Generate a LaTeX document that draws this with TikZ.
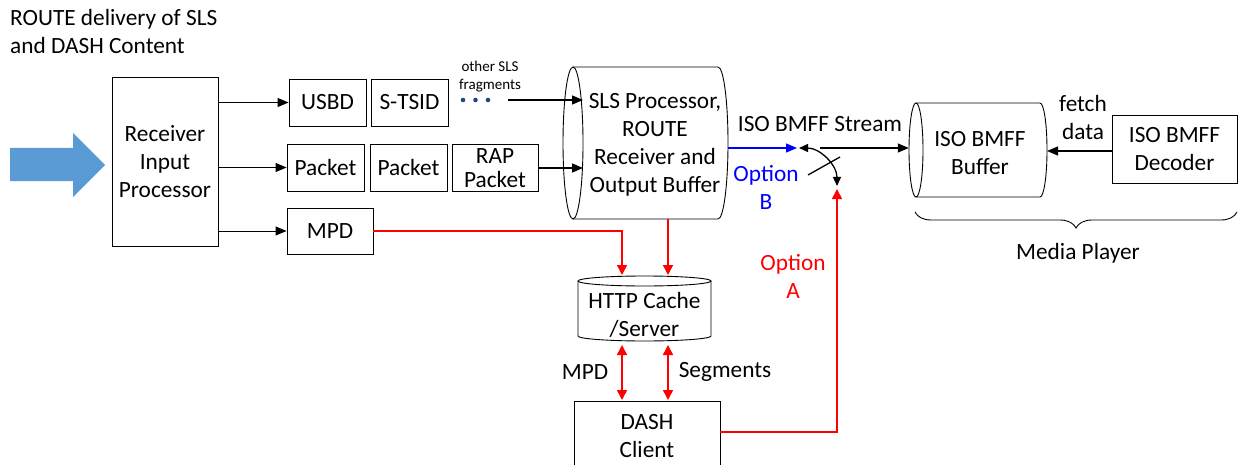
\documentclass[tikz,border=0pt]{standalone}
\usepackage{fontspec}
\setmainfont{Carlito}
\usetikzlibrary{arrows.meta,decorations.pathreplacing}
\definecolor{arrowblue}{RGB}{91,155,213}
\definecolor{dotblue}{RGB}{31,73,125}
\begin{document}
\begin{tikzpicture}[x=1pt,y=-1pt,
  every node/.style={font=\fontsize{23.3}{28}\selectfont, align=center, inner sep=0pt},
  box/.style={draw, line width=0.9pt},
  small/.style={font=\fontsize{15}{18}\selectfont},
  conn/.style={line width=1.3pt, -{Triangle[length=11pt,width=9pt]}},
  thinconn/.style={line width=0.9pt, -{Triangle[length=11pt,width=9pt]}},
  redc/.style={red, line width=1.5pt, -{Triangle[length=10pt,width=10pt]}},
  redd/.style={red, line width=1.5pt, {Triangle[length=10pt,width=10pt]}-{Triangle[length=10pt,width=10pt]}},
  cyl/.style={line width=0.9pt}
]
\useasboundingbox (0,0) rectangle (1238,465);

% title
\node[anchor=west, align=left] (title) at (10,31) {ROUTE delivery of SLS\\and DASH Content};

% big input arrow
\fill[arrowblue] (10,148) -- (73,148) -- (73,133) -- (105,165) -- (73,197) -- (73,181) -- (10,181) -- cycle;

% boxes
\node[box, minimum width=106pt, minimum height=169pt] (rip) at (165,161.5) {Receiver\\Input\\Processor};
\node[box, minimum width=77pt, minimum height=47pt] (usbd) at (327.5,102.5) {USBD};
\node[box, minimum width=77pt, minimum height=47pt] (stsid) at (409.5,102.5) {S-TSID};
\node[box, minimum width=77pt, minimum height=47pt] (p1) at (325.5,167.5) {Packet};
\node[box, minimum width=77pt, minimum height=47pt] (p2) at (408.5,167.5) {Packet};
\node[box, minimum width=86pt, minimum height=47pt, font=\fontsize{23.3}{24}\selectfont] (rap) at (495,168) {RAP\\Packet};
\node[box, minimum width=86pt, minimum height=46pt] (mpd) at (330,231) {MPD};
\node[box, minimum width=125pt, minimum height=68pt] (dec) at (1174.5,149) {ISO BMFF\\Decoder};
\node[box, minimum width=146pt, minimum height=70pt] (dash) at (647,436) {DASH\\Client};

% other SLS fragments
\node[small] (other) at (490,77) {other SLS\\fragments};
\foreach \i/\xx in {1/463,2/475.5,3/488} \fill[dotblue] (\xx,100) circle (2.3pt) coordinate (d\i);
\coordinate (dotsend) at (508,100);

% SLS cylinder
\draw[cyl] (573,67) -- (718,67) arc (90:-90:10pt and 76pt) -- (573,219);
\draw[cyl] (573,143) ellipse [x radius=10pt, y radius=76pt];
\node[minimum width=165pt, minimum height=152pt] (sls) at (645.5,143) {};
\node (slstext) at (655,145) {SLS Processor,\\ROUTE\\Receiver and\\Output Buffer};

% ISO BMFF Buffer cylinder
\draw[cyl] (916,103) -- (1040,103) arc (90:-90:7pt and 47pt) -- (916,197);
\draw[cyl] (916,150) ellipse [x radius=7pt, y radius=47pt];
\node[minimum width=138pt, minimum height=94pt] (buf) at (978,150) {};
\node (buftext) at (980,153) {ISO BMFF\\Buffer};

% HTTP cache cylinder
\draw[cyl] (578,281) -- (578,336) arc (180:360:66.5pt and 5pt) -- (711,281);
\draw[cyl] (644.5,281) ellipse [x radius=66.5pt, y radius=5pt];
\node[minimum width=133pt, minimum height=65pt] (http) at (644.5,308.5) {};
\node (httptext) at (644.5,315) {HTTP Cache\\/Server};

% labels
\node (stream) at (820,124) {ISO BMFF Stream};
\node (fetch) at (1083,117) {fetch\\data};
\node[blue] (optB) at (766,187) {Option\\B};
\node[red] (optA) at (793,276) {Option\\A};
\node (mpdlab) at (585,372) {MPD};
\node (seglab) at (725,372) {Segments};
\node (media) at (1078,253) {Media Player};

% connectors from RIP
\draw[thinconn] (rip.east |- usbd) -- (usbd.west);
\draw[thinconn] (rip.east |- p1) -- (p1.west);
\draw[thinconn] (rip.east |- mpd) -- (mpd.west);

% into SLS
\draw[conn] (dotsend) -- (583,100) coordinate (slsin1);
\draw[conn] (rap.east) -- (583,168) coordinate (slsin2);

% option B
\coordinate (swL) at (797,148);
\coordinate (swD) at (838,186);
\draw[blue, line width=1.3pt, -{Triangle[length=11pt,width=9pt]}] (sls.east |- swL) -- (swL);
\draw[line width=1.3pt, {Triangle[length=9pt,width=8pt]}-{Triangle[length=9pt,width=8pt]}] (799,148) to[bend left=45] (837,186);
\draw[line width=1.3pt] (808,175) coordinate (cr1) -- (840,157) coordinate (cr2);
\draw[conn] (820,148) coordinate (strstart) -- (buf.west |- strstart);

% fetch
\draw[conn] (dec.west |- 0,151) -- (1047,151);

% brace
\draw[line width=0.9pt, decorate, decoration={brace, mirror, amplitude=16pt}] (915,212) coordinate (brL) -- (1237,212) coordinate (brR);

% red connectors
\draw[redc] (mpd.east) -- (622,231) -- (622,275);
\draw[redc] (668,219) -- (668,275);
\draw[redd] (622,345) -- (622,400);
\draw[redd] (668,345) -- (668,400);
\draw[redc] (dash.east |- 0,432) -- (837,432) -- (837,189);
\end{tikzpicture}
\end{document}
